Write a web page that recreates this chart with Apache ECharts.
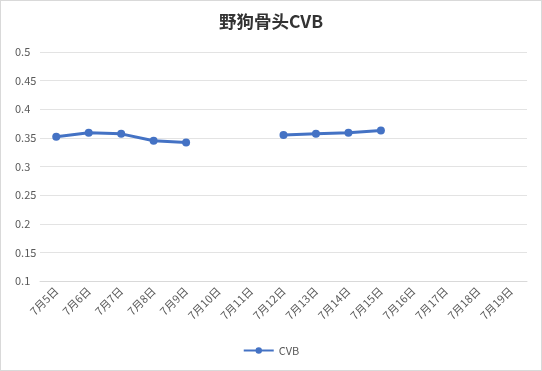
<!DOCTYPE html>
<html>
<head>
<meta charset="utf-8">
<script src="https://cdn.jsdelivr.net/npm/echarts@6/dist/echarts.min.js"></script>
<style>
  html, body { margin: 0; padding: 0; background: #fff; }
  #chart { width: 540px; height: 369px; border: 1px solid #d9d9d9; }
</style>
</head>
<body>
<div id="chart"></div>
<script>
// 日期类目与 CVB 数值（空值 = 当天无数据，折线断开）
const days = ['7月5日', '7月6日', '7月7日', '7月8日', '7月9日', '7月10日', '7月11日', '7月12日',
  '7月13日', '7月14日', '7月15日', '7月16日', '7月17日', '7月18日', '7月19日']
const cvb = [0.352, 0.359, 0.357, 0.345, 0.342, null, null, 0.355,
  0.357, 0.359, 0.363, null, null, null, null]

const FONT = '"Microsoft YaHei", "Noto Sans CJK SC", sans-serif'
const GRAY = '#595959'
const LINE = '#4472C4'

const chart = echarts.init(document.getElementById('chart'))
chart.setOption({
  backgroundColor: '#fff',
  animation: false,
  title: {
    text: '野狗骨头CVB', left: 'center', top: 7,
    textStyle: { fontFamily: FONT, fontSize: 17.5, fontWeight: 'bold', color: '#333' },
  },
  grid: { left: 39, right: 14, top: 51, bottom: 89 },
  legend: {
    bottom: 9, left: 'center', itemWidth: 30, itemHeight: 8,
    textStyle: { fontFamily: FONT, fontSize: 11, color: GRAY },
    data: ['CVB'],
  },
  xAxis: {
    type: 'category', data: days,
    axisLine: { lineStyle: { color: '#d9d9d9' } },
    axisTick: { length: 5, lineStyle: { color: '#d9d9d9' } },
    axisLabel: { rotate: 45, interval: 0, color: GRAY, fontFamily: FONT, fontSize: 11, margin: 8 },
  },
  yAxis: {
    type: 'value', min: 0.1, max: 0.5, interval: 0.05,
    axisLine: { show: false }, axisTick: { show: false },
    axisLabel: { color: GRAY, fontFamily: FONT, fontSize: 11, align: 'left', margin: 25 },
    splitLine: { lineStyle: { color: '#e3e3e3' } },
  },
  series: [{
    name: 'CVB', type: 'line', data: cvb, connectNulls: false,
    symbol: 'circle', symbolSize: 8,
    lineStyle: { width: 3, color: LINE },
    itemStyle: { color: LINE },
  }],
})
</script>
</body>
</html>
